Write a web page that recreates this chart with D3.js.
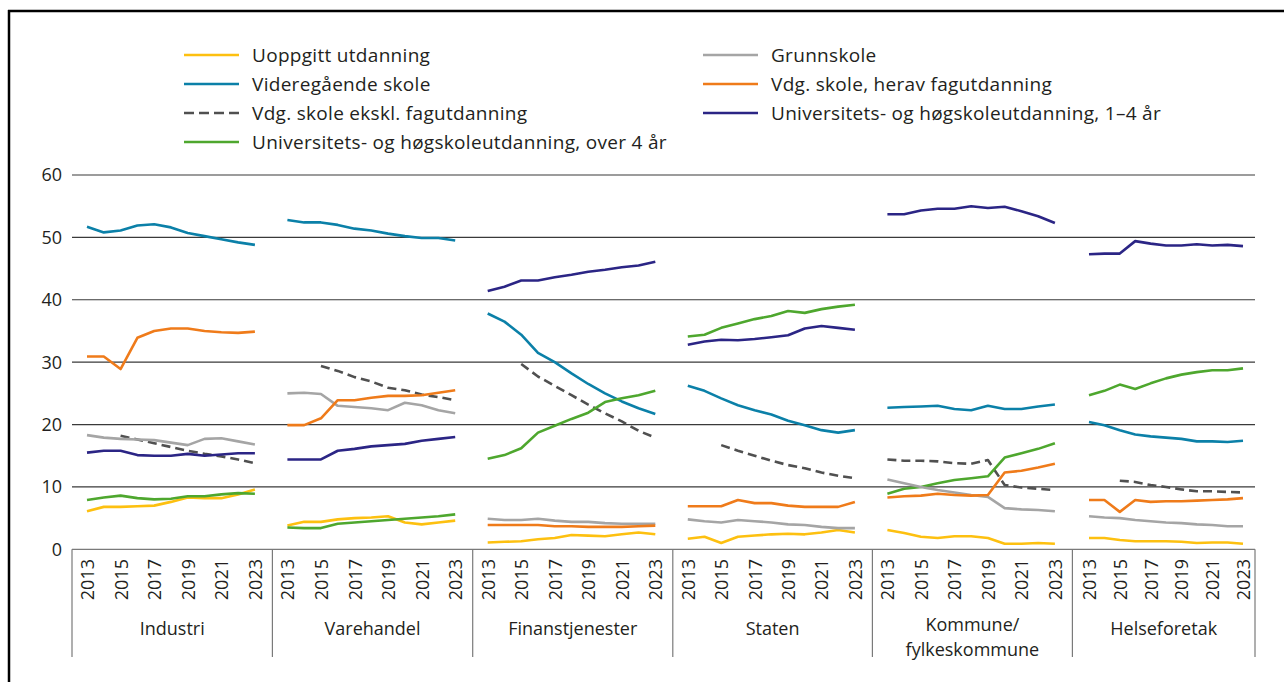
<!DOCTYPE html>
<html>
<head>
<meta charset="utf-8" />
<title>Utdanningsnivå etter sektor</title>
<style>
  body { margin: 0; background: #fff; }
  text { font-family: "Open Sans", sans-serif; fill: #231f20; font-size: 18px; }
  .legend text { font-size: 19px; letter-spacing: 0.3px; }
</style>
</head>
<body>
<div id="chart"></div>
<script src="https://cdn.jsdelivr.net/npm/d3@7/dist/d3.min.js"></script>
<script>

var years = [2013, 2014, 2015, 2016, 2017, 2018, 2019, 2020, 2021, 2022, 2023];
var tickYears = [2013, 2015, 2017, 2019, 2021, 2023];
var yTicks = [0, 10, 20, 30, 40, 50, 60];

// sector labels, split into lines
var sectors = [["Industri"], ["Varehandel"], ["Finanstjenester"], ["Staten"],
  ["Kommune/", "fylkeskommune"], ["Helseforetak"]];

// one row per sector, one value per year (per cent)
var uoppgitt = [
  [6.1, 6.8, 6.8, 6.9, 7.0, 7.6, 8.3, 8.2, 8.2, 8.8, 9.6],
  [3.8, 4.4, 4.4, 4.8, 5.0, 5.1, 5.3, 4.3, 4.0, 4.3, 4.6],
  [1.1, 1.2, 1.3, 1.6, 1.8, 2.3, 2.2, 2.1, 2.4, 2.7, 2.4],
  [1.7, 2.0, 1.0, 2.0, 2.2, 2.4, 2.5, 2.4, 2.7, 3.1, 2.7],
  [3.1, 2.6, 2.0, 1.8, 2.1, 2.1, 1.8, 0.9, 0.9, 1.0, 0.9],
  [1.8, 1.8, 1.5, 1.3, 1.3, 1.3, 1.2, 1.0, 1.1, 1.1, 0.9]
];
var grunnskole = [
  [18.3, 17.9, 17.7, 17.6, 17.5, 17.1, 16.7, 17.7, 17.8, 17.3, 16.8],
  [25.0, 25.1, 24.9, 23.0, 22.8, 22.6, 22.3, 23.5, 23.1, 22.3, 21.8],
  [4.9, 4.7, 4.7, 4.9, 4.6, 4.4, 4.4, 4.2, 4.1, 4.1, 4.1],
  [4.8, 4.5, 4.3, 4.7, 4.5, 4.3, 4.0, 3.9, 3.6, 3.4, 3.4],
  [11.2, 10.6, 10.0, 9.5, 9.1, 8.7, 8.4, 6.6, 6.4, 6.3, 6.1],
  [5.3, 5.1, 5.0, 4.7, 4.5, 4.3, 4.2, 4.0, 3.9, 3.7, 3.7]
];
var videregaende = [
  [51.7, 50.8, 51.1, 51.9, 52.1, 51.6, 50.7, 50.2, 49.7, 49.2, 48.8],
  [52.8, 52.4, 52.4, 52.0, 51.4, 51.1, 50.6, 50.2, 49.9, 49.9, 49.5],
  [37.8, 36.5, 34.4, 31.5, 30.0, 28.2, 26.5, 25.0, 23.7, 22.6, 21.7],
  [26.2, 25.4, 24.2, 23.1, 22.3, 21.6, 20.6, 19.9, 19.1, 18.7, 19.1],
  [22.7, 22.8, 22.9, 23.0, 22.5, 22.3, 23.0, 22.5, 22.5, 22.9, 23.2],
  [20.4, 19.9, 19.1, 18.4, 18.1, 17.9, 17.7, 17.3, 17.3, 17.2, 17.4]
];
var fagutdanning = [
  [30.9, 30.9, 28.9, 33.9, 35.0, 35.4, 35.4, 35.0, 34.8, 34.7, 34.9],
  [19.9, 19.9, 21.0, 23.9, 23.9, 24.3, 24.6, 24.6, 24.7, 25.1, 25.5],
  [3.9, 3.9, 3.9, 3.9, 3.7, 3.7, 3.6, 3.6, 3.6, 3.7, 3.8],
  [6.9, 6.9, 6.9, 7.9, 7.4, 7.4, 7.0, 6.8, 6.8, 6.8, 7.6],
  [8.3, 8.5, 8.6, 8.9, 8.7, 8.6, 8.7, 12.3, 12.6, 13.1, 13.7],
  [7.9, 7.9, 6.0, 7.9, 7.6, 7.7, 7.7, 7.8, 7.9, 8.0, 8.2]
];
var eksklFag = [
  [null, null, 18.2, 17.6, 17.0, 16.4, 15.8, 15.3, 14.9, 14.4, 13.8],
  [null, null, 29.4, 28.6, 27.6, 26.9, 25.9, 25.5, 24.8, 24.4, 23.9],
  [null, null, 29.7, 27.7, 26.2, 24.7, 23.2, 21.8, 20.5, 19.0, 17.9],
  [null, null, 16.7, 15.8, 15.0, 14.2, 13.5, 13.0, 12.3, 11.8, 11.4],
  [14.4, 14.2, 14.2, 14.1, 13.8, 13.7, 14.3, 10.3, 9.9, 9.7, 9.5],
  [null, null, 11.0, 10.8, 10.3, 10.0, 9.6, 9.3, 9.3, 9.2, 9.1]
];
var uh14 = [
  [15.5, 15.8, 15.8, 15.1, 15.0, 15.0, 15.3, 15.0, 15.2, 15.4, 15.4],
  [14.4, 14.4, 14.4, 15.8, 16.1, 16.5, 16.7, 16.9, 17.4, 17.7, 18.0],
  [41.4, 42.1, 43.1, 43.1, 43.6, 44.0, 44.5, 44.8, 45.2, 45.5, 46.1],
  [32.8, 33.3, 33.6, 33.5, 33.7, 34.0, 34.3, 35.4, 35.8, 35.5, 35.2],
  [53.7, 53.7, 54.3, 54.6, 54.6, 55.0, 54.7, 54.9, 54.2, 53.4, 52.3],
  [47.3, 47.4, 47.4, 49.4, 49.0, 48.7, 48.7, 48.9, 48.7, 48.8, 48.6]
];
var uhOver4 = [
  [7.9, 8.3, 8.6, 8.2, 8.0, 8.1, 8.5, 8.5, 8.8, 9.0, 8.9],
  [3.5, 3.4, 3.4, 4.1, 4.3, 4.5, 4.7, 4.9, 5.1, 5.3, 5.6],
  [14.5, 15.1, 16.2, 18.7, 19.8, 20.9, 21.9, 23.6, 24.2, 24.7, 25.4],
  [34.1, 34.4, 35.5, 36.2, 36.9, 37.4, 38.2, 37.9, 38.5, 38.9, 39.2],
  [8.9, 9.7, 10.0, 10.6, 11.1, 11.4, 11.7, 14.7, 15.4, 16.1, 17.0],
  [24.7, 25.4, 26.4, 25.7, 26.6, 27.4, 28.0, 28.4, 28.7, 28.7, 29.0]
];

// legend order: left column then right column
var series = [
  { name: "Uoppgitt utdanning", values: uoppgitt, color: "#fdc010", col: 0, row: 0 },
  { name: "Videregående skole", values: videregaende, color: "#0b80a8", col: 0, row: 1 },
  { name: "Vdg. skole ekskl. fagutdanning", values: eksklFag, color: "#505050", dash: "9,5", col: 0, row: 2 },
  { name: "Universitets- og høgskoleutdanning, over 4 år", values: uhOver4, color: "#4ea72e", col: 0, row: 3 },
  { name: "Grunnskole", values: grunnskole, color: "#a5a5a5", col: 1, row: 0 },
  { name: "Vdg. skole, herav fagutdanning", values: fagutdanning, color: "#ef7b1a", col: 1, row: 1 },
  { name: "Universitets- og høgskoleutdanning, 1–4 år", values: uh14, color: "#2b2585", col: 1, row: 2 }
];

var width = 1284, height = 682;
var svg = d3.select("#chart").append("svg").attr("width", width).attr("height", height);

// frame
svg.append("line").attr("x1", 8).attr("x2", width).attr("y1", 11).attr("y2", 11)
  .attr("stroke", "#000").attr("stroke-width", 2.5);
svg.append("line").attr("x1", 9).attr("x2", 9).attr("y1", 10).attr("y2", height)
  .attr("stroke", "#000").attr("stroke-width", 2.5);

var plotLeft = 72, plotRight = 1255;
var y = d3.scaleLinear().domain([0, 60]).range([549.3, 175]);

// panel edges
var edges = [72, 272.4, 472.7, 672.8, 872.4, 1072.4, 1255];
var xScales = sectors.map(function (s, i) {
  var last = i === sectors.length - 1;
  return d3.scaleLinear().domain([2013, 2023])
    .range([edges[i] + (last ? 16.6 : 15), edges[i + 1] - (last ? 12 : 17.5)]);
});

// grid
var grid = svg.append("g");
yTicks.forEach(function (t) {
  grid.append("line").attr("x1", plotLeft).attr("x2", plotRight)
    .attr("y1", y(t)).attr("y2", y(t))
    .attr("stroke", t === 0 ? "#7a7a7a" : "#3a3a3a").attr("stroke-width", 1.2);
  grid.append("text").attr("x", 62).attr("y", y(t)).attr("dy", "0.36em")
    .attr("text-anchor", "end").text(t);
});

// separators and category labels
edges.forEach(function (e) {
  svg.append("line").attr("x1", e).attr("x2", e).attr("y1", y(0)).attr("y2", 657)
    .attr("stroke", "#7a7a7a").attr("stroke-width", 1.2);
});
sectors.forEach(function (lines, i) {
  var xs = xScales[i];
  tickYears.forEach(function (yr) {
    svg.append("text")
      .attr("transform", "translate(" + (xs(yr) + 0.5) + ",559) rotate(-90)")
      .attr("text-anchor", "end").attr("dy", "0.36em").text(yr);
  });
  var cx = (edges[i] + edges[i + 1]) / 2;
  var top = lines.length > 1 ? 625 : 629;
  lines.forEach(function (l, j) {
    svg.append("text").attr("x", cx).attr("y", top + j * 25).attr("dy", "0.36em")
      .attr("text-anchor", "middle").text(l);
  });
});

// lines
var lineGen = d3.line()
  .defined(function (d) { return d.v !== null; })
  .x(function (d) { return d.x; })
  .y(function (d) { return y(d.v); });

series.forEach(function (s) {
  s.values.forEach(function (row, i) {
    var pts = row.map(function (v, k) { return { x: xScales[i](years[k]), v: v }; });
    svg.append("path").attr("d", lineGen(pts))
      .attr("fill", "none").attr("stroke", s.color).attr("stroke-width", 2.6)
      .attr("stroke-linejoin", "round")
      .attr("stroke-dasharray", s.dash || null);
  });
});

// legend
var legend = svg.append("g").attr("class", "legend");
series.forEach(function (s) {
  var lx = s.col === 0 ? 184 : 703;
  var ly = 55 + s.row * 29;
  legend.append("line").attr("x1", lx).attr("x2", lx + 55).attr("y1", ly).attr("y2", ly)
    .attr("stroke", s.color).attr("stroke-width", 2.6)
    .attr("stroke-dasharray", s.dash ? "10,5" : null);
  legend.append("text").attr("x", lx + 68).attr("y", ly).attr("dy", "0.36em").text(s.name);
});

</script>
</body>
</html>
